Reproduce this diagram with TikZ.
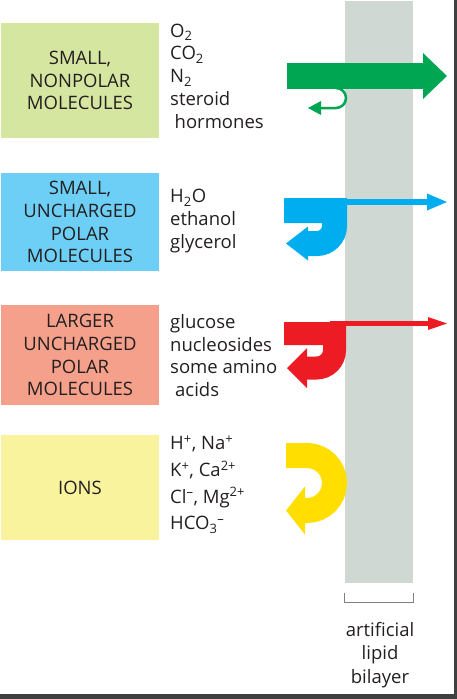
\documentclass[tikz,border=0pt]{standalone}
\usepackage{fontspec}
\setmainfont{Open Sans}
\usetikzlibrary{arrows.meta}
\definecolor{ink}{RGB}{35,31,32}
\definecolor{npfill}{RGB}{213,230,161}
\definecolor{polfill}{RGB}{109,207,246}
\definecolor{bigfill}{RGB}{245,160,139}
\definecolor{ionfill}{RGB}{250,243,158}
\definecolor{npgreen}{RGB}{0,166,81}
\definecolor{polblue}{RGB}{0,174,239}
\definecolor{bigred}{RGB}{237,28,36}
\definecolor{ionyellow}{RGB}{255,222,0}
\definecolor{membrane}{RGB}{207,216,211}
\definecolor{edgegrey}{RGB}{64,64,64}
\newcommand\lblfont{\fontsize{18.5}{22.8}\selectfont}
\tikzset{
    catbox/.style={fill=#1, minimum width=158pt, inner sep=0pt, align=center, text=ink, font=\lblfont},
    mollist/.style={anchor=west, inner sep=0pt, align=left, text=ink, font=\lblfont},
    flow/.style={draw=#1, -{Triangle[length=20pt,width=40pt,line width=0pt]}},
    tip/.style={-{Triangle[#1,line width=0pt]}}
}

\begin{document}
\begin{tikzpicture}[x=1pt,y=1pt]
    \useasboundingbox (0,0) rectangle (457,-699);
    % membrane
    \node[fill=membrane, minimum width=68pt, minimum height=582pt, inner sep=0pt] (bilayer) at (379,-292) {};
    \draw[gray, line width=1pt] ([yshift=-10pt]bilayer.south west) -- ++(0,-9) -| ([yshift=-10pt]bilayer.south east);
    \node[align=center, text=ink, font=\fontsize{18.5}{23.5}\selectfont] (bilayerlbl) at (380,-655) {artificial\\lipid\\bilayer};

    % categories
    \node[catbox=npfill, minimum height=115pt] (smallnp) at (80,-80.5) {SMALL,\\NONPOLAR\\MOLECULES};
    \node[catbox=polfill, minimum height=98pt] (smallpol) at (80,-222) {SMALL,\\UNCHARGED\\POLAR\\MOLECULES};
    \node[catbox=bigfill, minimum height=100pt] (largepol) at (80,-355) {LARGER\\UNCHARGED\\POLAR\\MOLECULES};
    \node[catbox=ionfill, minimum height=105pt] (ions) at (80,-487.5) {IONS};

    % examples
    \node[mollist] (nplist) at (170,-76) {O\textsubscript{2}\\CO\textsubscript{2}\\N\textsubscript{2}\\steroid\\\hspace*{4.5pt}hormones};
    \node[mollist] (pollist) at (170,-221) {H\textsubscript{2}O\\ethanol\\glycerol};
    \node[mollist] (largelist) at (170,-355.5) {glucose\\nucleosides\\some amino\\\hspace*{5pt}acids};
    \node[mollist, font=\fontsize{18.5}{26.7}\selectfont] (ionlist) at (170,-484.5) {H\textsuperscript{+}, Na\textsuperscript{+}\\K\textsuperscript{+}, Ca\textsuperscript{2+}\\Cl\textsuperscript{--}, Mg\textsuperscript{2+}\\HCO\textsubscript{3}\textsuperscript{--}};

    % fluxes
    \draw[flow=npgreen, line width=26pt, tip={length=24pt,width=46pt}] (287,-76) -- (447,-76);
    \draw[npgreen, line width=2.5pt, tip={length=13pt,width=14pt}] (336,-88) arc[start angle=90,end angle=-90,radius=10] -- (308,-108);
    \draw[flow=polblue, line width=25pt, tip={length=22pt,width=34pt}] (284,-210.5) -- (334.5,-210.5) -- (334.5,-226) arc[start angle=0,end angle=-90,radius=17.5] -- (286,-243.5);
    \draw[polblue, line width=6.5pt, tip={length=20pt,width=17pt}] (330,-202) -- (447,-202);
    \draw[flow=bigred, line width=23pt, tip={length=20pt,width=40pt}] (284,-333.5) -- (334.5,-333.5) -- (334.5,-350) arc[start angle=0,end angle=-90,radius=18] -- (287,-368);
    \draw[bigred, line width=4.5pt, tip={length=19pt,width=13pt}] (330,-323.5) -- (447,-323.5);
    \draw[flow=ionyellow, line width=25pt, tip={length=19pt,width=48pt}] (286,-455.5) -- (307,-455.5) arc[start angle=90,end angle=-90,radius=27.5] -- (286,-510.5);

    % screenshot edges
    \fill[edgegrey] (453.5,0) rectangle (457,-699);
    \fill[edgegrey] (0,-694) rectangle (457,-699);
\end{tikzpicture}
\end{document}
